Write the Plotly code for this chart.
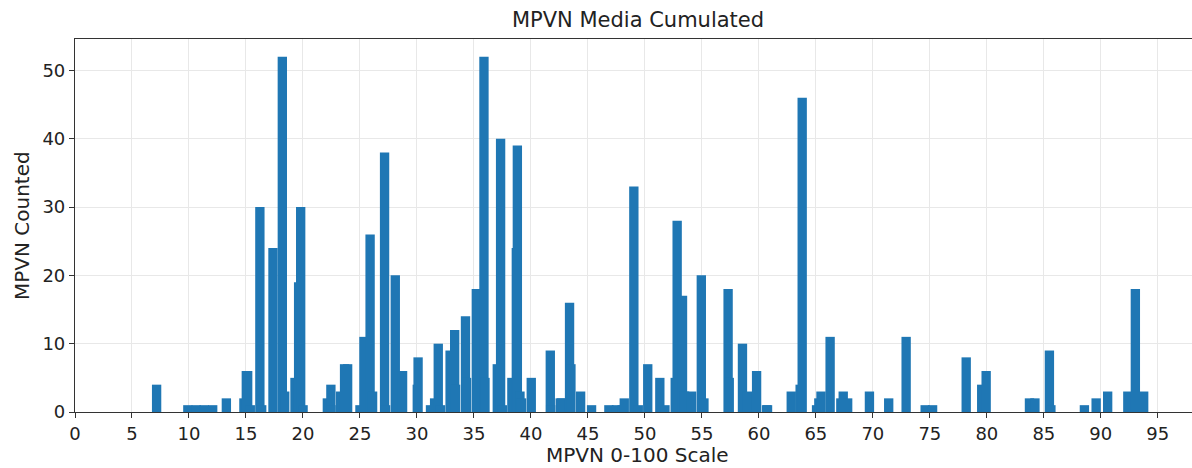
import plotly.graph_objects as go

mpvn_scale = [
    7.16, 9.90, 10.63, 11.33, 12.08, 13.28, 14.82, 15.03, 15.15, 15.38,
    16.22, 16.38, 17.37, 18.19, 18.40, 19.30, 19.62, 19.80, 20.01, 22.14,
    22.45, 22.46, 23.30, 23.65, 23.92, 25.00, 25.35, 25.89, 26.11, 27.16,
    27.25, 28.10, 28.74, 30.03, 30.10, 31.19, 31.55, 31.87, 32.07, 32.91,
    33.31, 33.39, 34.26, 34.35, 35.21, 35.88, 35.97, 37.05, 37.34, 37.49,
    38.33, 38.72, 38.81, 39.04, 39.18, 40.03, 41.70, 41.73, 42.57, 42.69,
    43.39, 43.51, 44.36, 45.32, 46.84, 47.51, 48.01, 48.19, 49.03, 49.42,
    50.25, 51.31, 51.76, 52.66, 52.83, 53.30, 53.48, 54.10, 54.95, 55.18,
    57.30, 57.40, 58.56, 59.00, 59.80, 60.67, 60.76, 62.84, 63.62, 63.80,
    65.06, 65.26, 65.45, 66.25, 67.19, 67.40, 67.79, 69.70, 71.39, 72.92,
    74.59, 75.24, 78.19, 79.55, 79.94, 83.74, 84.22, 85.49, 85.62, 88.56,
    89.59, 90.60, 92.37, 93.03, 93.76,
]

mpvn_counted = [
    4, 1, 1, 1, 1, 2, 2, 6, 6, 1,
    30, 1, 24, 52, 3, 5, 19, 30, 1, 2,
    4, 1, 3, 7, 7, 1, 11, 26, 3, 38,
    1, 20, 6, 4, 8, 1, 2, 10, 1, 9,
    12, 4, 14, 5, 18, 52, 5, 7, 40, 1,
    5, 24, 39, 3, 2, 5, 9, 1, 2, 2,
    16, 7, 3, 1, 1, 1, 1, 2, 33, 1,
    7, 5, 1, 5, 28, 17, 3, 3, 20, 2,
    18, 5, 10, 3, 6, 1, 1, 3, 4, 46,
    1, 2, 3, 11, 2, 3, 2, 3, 2, 11,
    1, 1, 8, 4, 6, 2, 2, 9, 1, 1,
    2, 3, 3, 18, 3,
]

x_tick_values = list(range(0, 100, 5))
y_tick_values = [0, 10, 20, 30, 40, 50]

fig = go.Figure()
fig.add_trace(go.Bar(
    x=mpvn_scale,
    y=mpvn_counted,
    width=0.82,
    marker=dict(color="#1f77b4", line=dict(width=0)),
    showlegend=False,
))

font_family = "DejaVu Sans"
text_color = "#222222"
fig.update_layout(
    width=1192,
    height=468,
    margin=dict(l=75, r=0, t=39, b=56),
    paper_bgcolor="white",
    plot_bgcolor="white",
    barmode="overlay",
    font=dict(family=font_family, color=text_color, size=19),
    title=dict(
        text="MPVN Media Cumulated",
        x=638 / 1192, xanchor="center",
        y=1 - 20 / 468, yanchor="middle",
        font=dict(size=21, color=text_color),
    ),
    annotations=[
        dict(text="MPVN 0-100 Scale", xref="paper", yref="paper",
             x=(637 - 75) / (1192 - 75), y=-(455 - 412) / (412 - 39),
             xanchor="center", yanchor="middle", showarrow=False,
             font=dict(size=20, color=text_color)),
        dict(text="MPVN Counted", xref="paper", yref="paper",
             x=-(75 - 22) / (1192 - 75), y=(412 - 226) / (412 - 39),
             xanchor="center", yanchor="middle", showarrow=False,
             textangle=-90, font=dict(size=20, color=text_color)),
    ],
)
fig.update_xaxes(
    range=[0, 98.0],
    tickmode="array",
    tickvals=x_tick_values,
    ticks="outside",
    ticklen=5,
    tickcolor="#333333",
    tickfont=dict(size=18),
    showgrid=True,
    gridcolor="#e8e8e8",
    gridwidth=1,
    zeroline=False,
    showline=True,
    linecolor="#333333",
    linewidth=1.2,
    mirror=True,
    automargin=False,
)
fig.update_yaxes(
    range=[0, 54.6],
    tickmode="array",
    tickvals=y_tick_values,
    ticks="outside",
    ticklen=5,
    tickcolor="#333333",
    tickfont=dict(size=18),
    showgrid=True,
    gridcolor="#e8e8e8",
    gridwidth=1,
    zeroline=False,
    showline=True,
    linecolor="#333333",
    linewidth=1.2,
    mirror=False,
    automargin=False,
)

fig.write_html(
    "out.html",
    config={"displayModeBar": False},
    post_script="document.body.style.margin='0';",
)
